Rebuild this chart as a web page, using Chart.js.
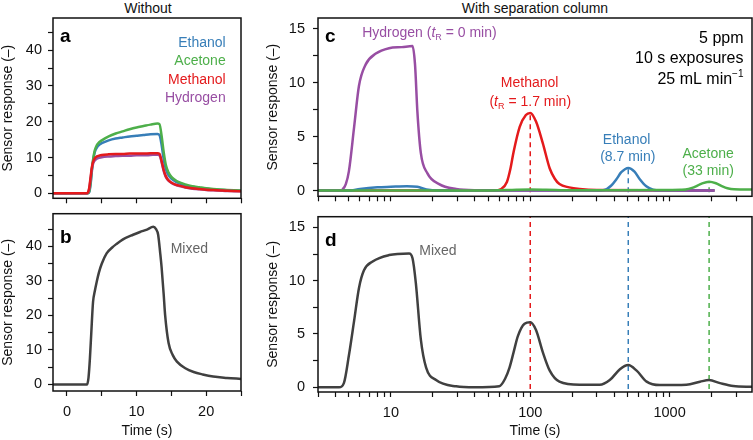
<!DOCTYPE html>
<html>
<head>
<meta charset="utf-8">
<script src="https://cdn.jsdelivr.net/npm/chart.js@4.4.1/dist/chart.umd.min.js"></script>
<style>
  html, body { margin: 0; padding: 0; background: #fff; }
  #wrap { position: relative; width: 753px; height: 440px; overflow: hidden; font-family: 'Liberation Sans', Arial, sans-serif; }
  canvas { position: absolute; }
  .head { position: absolute; top: 0; font-size: 14px; line-height: 16px; color: #111; text-align: center; }
</style>
</head>
<body>
<div id="wrap">
  <div class="head" style="left:48px;width:200px;">Without</div>
  <div class="head" style="left:435px;width:200px;">With separation column</div>
  <canvas id="panelA" width="250" height="213" style="left:0;top:0"></canvas>
  <canvas id="panelB" width="250" height="241" style="left:0;top:199px"></canvas>
  <canvas id="panelC" width="500" height="213" style="left:253px;top:0"></canvas>
  <canvas id="panelD" width="500" height="240" style="left:253px;top:200px"></canvas>
</div>
<script>
// ---- data ----
// panel a: single-gas exposures without column (time in s)
const timeA = [-2, 2.8, 3.0, 3.2, 3.4, 3.6, 3.8, 4.0, 4.3, 4.6, 5, 6, 7, 8, 9, 10, 11, 12, 13, 13.3, 13.6, 13.9, 14.2, 14.6, 15, 15.5, 16, 17, 18, 19, 20, 21, 22, 23, 24, 25];
const acetoneA = [0, 0, 0, 0.5, 3, 7, 10, 12, 13.5, 14.2, 14.8, 15.9, 16.7, 17.3, 17.9, 18.4, 18.8, 19.2, 19.5, 19.3, 16, 11.5, 8, 5.8, 4.6, 3.8, 3.2, 2.5, 2.0, 1.7, 1.4, 1.2, 1.05, 0.95, 0.85, 0.75];
const ethanolA = [0, 0, 0, 0.3, 2.5, 6.5, 9.5, 11.5, 12.8, 13.5, 14.0, 14.8, 15.3, 15.6, 15.9, 16.1, 16.3, 16.5, 16.6, 16.3, 13.5, 9.5, 6.8, 5.0, 4.1, 3.4, 2.9, 2.2, 1.8, 1.5, 1.25, 1.05, 0.95, 0.85, 0.75, 0.7];
const methanolA = [0, 0, 0.2, 1.5, 4.5, 7.5, 9.0, 9.8, 10.3, 10.5, 10.7, 10.9, 11.0, 11.0, 11.1, 11.1, 11.1, 11.2, 11.2, 11.0, 9.0, 6.5, 4.8, 3.6, 3.0, 2.5, 2.2, 1.7, 1.4, 1.2, 1.0, 0.9, 0.8, 0.7, 0.65, 0.6];
const hydrogenA = [0, 0, 0.1, 1.2, 4, 7, 8.5, 9.2, 9.7, 9.9, 10.1, 10.3, 10.4, 10.5, 10.5, 10.6, 10.6, 10.7, 10.8, 10.6, 8.7, 6.2, 4.6, 3.5, 2.9, 2.4, 2.1, 1.6, 1.3, 1.1, 0.95, 0.85, 0.75, 0.65, 0.6, 0.55];

// panel b: mixture without column
const timeB = [-2, 2.9, 3.1, 3.3, 3.5, 3.75, 4.0, 4.25, 4.6, 5, 5.7, 6.5, 7.1, 8, 9.5, 10.5, 11.5, 12.4, 12.8, 13.1, 13.4, 13.6, 13.9, 14.1, 14.6, 15.2, 15.8, 17, 18.2, 19.5, 21, 23, 25];
const mixedB = [0, 0, 2, 7.5, 15, 23.9, 27, 29.5, 32.5, 35, 38, 39.7, 40.7, 42, 43.4, 44.2, 44.9, 45.7, 45, 43.4, 38, 33.9, 26, 20.2, 12, 8.5, 6.6, 4.7, 3.6, 2.9, 2.3, 1.9, 1.6];

// panel c: single gases with separation column (log time axis)
const timeH = [3, 4.3, 4.5, 4.75, 5.0, 5.45, 5.9, 6.6, 7.8, 9.7, 12, 14.3, 14.9, 15.5, 16.4, 18.3, 22.2, 29.4, 40, 100, 500, 2100];
const hydrogenC = [0, 0, 0.1, 0.6, 1.8, 5.9, 9.7, 11.7, 12.7, 13.2, 13.3, 13.4, 11.7, 7.3, 3.5, 1.6, 0.6, 0.15, 0.03, 0, 0, 0];
const timeE = [3, 5, 6, 8, 10, 13, 15.5, 18, 22, 100, 300, 340, 380, 415, 450, 505, 560, 611, 680, 760, 850, 2100];
const ethanolC = [0, 0, 0.15, 0.3, 0.35, 0.4, 0.35, 0.1, 0, 0, 0, 0.05, 0.45, 1.05, 1.7, 2.1, 1.75, 1.05, 0.4, 0.08, 0, 0];
const timeM = [3, 55, 62, 68, 72, 76, 84, 93, 100, 110, 123, 138, 150, 162, 190, 226, 300, 2100];
const methanolC = [0, 0, 0.15, 0.8, 2.0, 3.6, 5.9, 7.0, 7.2, 6.4, 4.4, 2.05, 1.1, 0.6, 0.3, 0.15, 0.05, 0];
const timeG = [3, 50, 80, 100, 130, 200, 400, 800, 1200, 1300, 1450, 1560, 1700, 1920, 2150, 2370, 2600, 2900, 3900];
const acetoneC = [0, 0, 0.08, 0.1, 0.08, 0.03, 0.03, 0.05, 0.08, 0.1, 0.25, 0.42, 0.65, 0.82, 0.68, 0.42, 0.22, 0.12, 0.1];

// panel d: mixture with separation column
const timeD = [3, 4.25, 4.6, 5.0, 5.45, 5.9, 6.4, 7.4, 9.7, 13.5, 14.3, 15.1, 16.4, 17.9, 21.1, 29.4, 40, 60, 66, 71, 76, 81.5, 91, 100, 110, 123, 138, 162, 226, 315, 372, 440, 505, 580, 684, 851, 1320, 1652, 1920, 2300, 2860, 3900];
const mixedD = [0, 0, 0.39, 3.0, 6.25, 9.3, 10.95, 11.8, 12.4, 12.55, 12.1, 9.8, 4.5, 1.85, 0.68, 0.09, 0, 0.1, 0.8, 1.85, 3.3, 4.8, 5.96, 6.1, 5.37, 3.3, 1.56, 0.53, 0.24, 0.24, 0.68, 1.7, 2.09, 1.56, 0.53, 0.21, 0.24, 0.53, 0.68, 0.39, 0.12, 0.05];

// retention markers (methanol, ethanol, acetone)
const retentionTimes = [100, 505, 1920];
const retentionPeaks = [7.2, 2.1, 0.82];
const logTickLabels = [10, 100, 1000];

const FONT = "'Liberation Sans', Arial, sans-serif";
const RED = '#e41a1c', BLUE = '#377eb8', GREEN = '#4daf4a', PURPLE = '#984ea3', GREY = '#404040';
const INK = '#111';

Chart.defaults.font.family = FONT;
Chart.defaults.color = INK;

function pts(xs, ys) {
  return xs.map((x, i) => ({x: x, y: ys[i]}));
}

function curve(xs, ys, color) {
  return {
    data: pts(xs, ys),
    borderColor: color,
    borderWidth: 2.5,
    pointRadius: 0,
    cubicInterpolationMode: 'monotone',
    fill: false
  };
}

function dashed(x, y0, y1, color) {
  return {
    data: [{x: x, y: y0}, {x: x, y: y1}],
    borderColor: color,
    borderWidth: 1.5,
    borderDash: [5, 4],
    pointRadius: 0,
    fill: false
  };
}

// box around each panel
const framePlugin = {
  id: 'frame',
  afterDatasetsDraw(chart) {
    const {ctx, chartArea: a} = chart;
    ctx.save();
    ctx.strokeStyle = INK;
    ctx.lineWidth = 1.5;
    ctx.strokeRect(a.left, a.top, a.right - a.left, a.bottom - a.top);
    ctx.restore();
  }
};

// text made of parts: plain, italic, subscript, superscript
function drawRich(ctx, parts, x, y, align, color, size) {
  const fontFor = p => (p.i ? 'italic ' : '') + ((p.sub || p.sup) ? Math.round(size * 0.62) : size) + 'px ' + FONT;
  let total = 0;
  parts.forEach(p => { ctx.font = fontFor(p); total += ctx.measureText(p.t).width; });
  let cx = align === 'right' ? x - total : align === 'center' ? x - total / 2 : x;
  ctx.fillStyle = color;
  ctx.textBaseline = 'middle';
  ctx.textAlign = 'left';
  parts.forEach(p => {
    ctx.font = fontFor(p);
    const dy = p.sub ? size * 0.3 : p.sup ? -size * 0.35 : 0;
    ctx.fillText(p.t, cx, y + dy);
    cx += ctx.measureText(p.t).width;
  });
}

function notesPlugin(letter, baseDy, notes) {
  return {
    id: 'notes',
    afterDraw(chart) {
      const {ctx, chartArea: a, scales} = chart;
      ctx.save();
      ctx.fillStyle = '#000';
      ctx.font = 'bold 19px ' + FONT;
      ctx.textBaseline = 'alphabetic';
      ctx.textAlign = 'left';
      ctx.fillText(letter, a.left + 7, a.top + baseDy);
      notes.forEach(n => {
        drawRich(ctx, n.parts, scales.x.getPixelForValue(n.x), scales.y.getPixelForValue(n.y),
          n.align, n.color, n.size || 14);
      });
      ctx.restore();
    }
  };
}

function yAxis(min, max, step, labelEvery, width, tickPad, titlePad) {
  return {
    type: 'linear',
    min: min,
    max: max,
    afterFit: s => { s.width = width; },
    border: {display: false},
    grid: {drawOnChartArea: false, tickLength: 5, tickColor: INK, tickWidth: 1.2},
    ticks: {
      stepSize: step,
      includeBounds: false,
      autoSkip: false,
      padding: tickPad,
      color: INK,
      font: {size: 14.5},
      callback: v => (Math.abs(v % labelEvery) < 1e-9 ? v : '')
    },
    title: {
      display: true,
      text: 'Sensor response (–)',
      color: INK,
      font: {size: 14},
      padding: {top: titlePad, bottom: 0}
    }
  };
}

function xLinear(showLabels, height) {
  return {
    type: 'linear',
    min: -2,
    max: 25,
    afterFit: s => { s.height = height; },
    border: {display: false},
    grid: {drawOnChartArea: false, tickLength: 5, tickColor: INK, tickWidth: 1.2},
    ticks: {
      display: showLabels,
      stepSize: 5,
      includeBounds: false,
      autoSkip: false,
      maxRotation: 0,
      padding: 7,
      color: INK,
      font: {size: 14.5},
      callback: v => (v % 10 === 0 ? v : '')
    },
    title: {display: showLabels, text: 'Time (s)', color: INK, font: {size: 14}, padding: {top: 0, bottom: 0}}
  };
}

function xLog(showLabels, height) {
  return {
    type: 'logarithmic',
    min: 3,
    max: 3900,
    afterFit: s => { s.height = height; },
    afterBuildTicks: s => {
      // keep only 1..9 x 10^n positions
      s.ticks = s.ticks.filter(t => {
        const m = t.value / Math.pow(10, Math.floor(Math.log10(t.value) + 1e-9));
        return Math.abs(m - Math.round(m)) < 1e-6 && t.value < 3900;
      });
    },
    border: {display: false},
    grid: {drawOnChartArea: false, tickLength: 5, tickColor: INK, tickWidth: 1.2},
    ticks: {
      display: showLabels,
      autoSkip: false,
      maxRotation: 0,
      padding: 7,
      color: INK,
      font: {size: 14.5},
      callback: v => (logTickLabels.includes(Math.round(v)) ? String(Math.round(v)) : '')
    },
    title: {display: showLabels, text: 'Time (s)', color: INK, font: {size: 14}, padding: {top: 0, bottom: 0}}
  };
}

function makeChart(id, datasets, scales, padding, extra) {
  return new Chart(document.getElementById(id), {
    type: 'line',
    data: {datasets: datasets},
    options: {
      responsive: false,
      animation: false,
      events: [],
      layout: {padding: padding},
      plugins: {legend: {display: false}, tooltip: {enabled: false}},
      scales: scales
    },
    plugins: [framePlugin, extra]
  });
}

// Panel a
makeChart('panelA',
  [
    curve(timeA, methanolA, RED),
    curve(timeA, hydrogenA, PURPLE),
    curve(timeA, acetoneA, GREEN),
    curve(timeA, ethanolA, BLUE)
  ],
  {x: xLinear(false, 9), y: yAxis(-1.4, 49, 5, 10, 53, 6, 0)},
  {left: 0, top: 18, right: 9, bottom: 0},
  notesPlugin('a', 24, [
    {parts: [{t: 'Ethanol'}], x: 22.8, y: 41.9, align: 'right', color: BLUE},
    {parts: [{t: 'Acetone'}], x: 22.8, y: 36.9, align: 'right', color: GREEN},
    {parts: [{t: 'Methanol'}], x: 22.8, y: 31.7, align: 'right', color: RED},
    {parts: [{t: 'Hydrogen'}], x: 22.8, y: 26.5, align: 'right', color: PURPLE}
  ])
);

// Panel b
makeChart('panelB',
  [curve(timeB, mixedB, GREY)],
  {x: xLinear(true, 49), y: yAxis(-1.9, 49.5, 5, 10, 53, 6, 0)},
  {left: 0, top: 5, right: 9, bottom: 0},
  notesPlugin('b', 29, [
    {parts: [{t: 'Mixed'}], x: 14.9, y: 39.2, align: 'left', color: '#666'}
  ])
);

// Panel c
const retentionC = retentionTimes.map((t, i) => dashed(t, -1, retentionPeaks[i], [RED, BLUE, GREEN][i]));
makeChart('panelC',
  [
    curve(timeG, acetoneC, GREEN),
    curve(timeH, hydrogenC, PURPLE),
    curve(timeE, ethanolC, BLUE),
    curve(timeM, methanolC, RED)
  ].concat(retentionC),
  {x: xLog(false, 8), y: yAxis(-0.53, 16, 2.5, 5, 65, 8, 12)},
  {left: 0, top: 18, right: 1, bottom: 0},
  notesPlugin('c', 24, [
    {parts: [{t: 'Hydrogen ('}, {t: 't', i: true}, {t: 'R', sub: true}, {t: ' = 0 min)'}], x: 6.22, y: 14.6, align: 'left', color: PURPLE},
    {parts: [{t: 'Methanol'}], x: 99, y: 10.0, align: 'center', color: RED},
    {parts: [{t: '('}, {t: 't', i: true}, {t: 'R', sub: true}, {t: ' = 1.7 min)'}], x: 100, y: 8.17, align: 'center', color: RED},
    {parts: [{t: 'Ethanol'}], x: 491, y: 4.68, align: 'center', color: BLUE},
    {parts: [{t: '(8.7 min)'}], x: 501, y: 3.08, align: 'center', color: BLUE},
    {parts: [{t: 'Acetone'}], x: 1888, y: 3.37, align: 'center', color: GREEN},
    {parts: [{t: '(33 min)'}], x: 1893, y: 1.76, align: 'center', color: GREEN},
    {parts: [{t: '5 ppm'}], x: 3390, y: 14.06, align: 'right', color: '#000', size: 16},
    {parts: [{t: '10 s exposures'}], x: 3390, y: 12.2, align: 'right', color: '#000', size: 16},
    {parts: [{t: '25 mL min'}, {t: '−1', sup: true}], x: 3390, y: 10.28, align: 'right', color: '#000', size: 16}
  ])
);

// Panel d
const retentionD = retentionTimes.map((t, i) => dashed(t, -1, 17, [RED, BLUE, GREEN][i]));
makeChart('panelD',
  [curve(timeD, mixedD, GREY)].concat(retentionD),
  {x: xLog(true, 48), y: yAxis(-0.44, 16, 2.5, 5, 65, 8, 12)},
  {left: 0, top: 5, right: 1, bottom: 0},
  notesPlugin('d', 29, [
    {parts: [{t: 'Mixed'}], x: 15.98, y: 12.76, align: 'left', color: '#666'}
  ])
);
</script>
</body>
</html>
